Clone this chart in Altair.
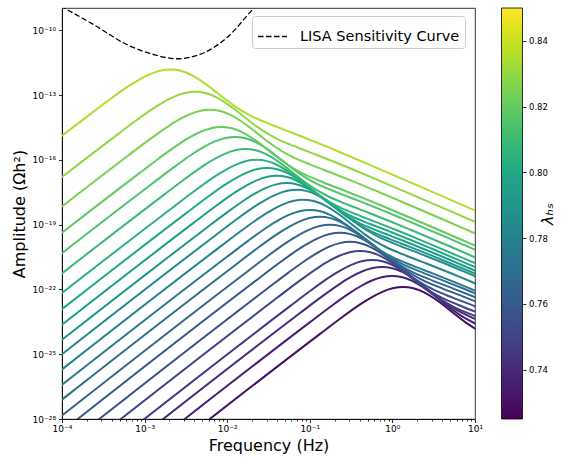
import altair as alt
import pandas as pd

# ---- data ----
lambda_hs = [0.730, 0.735, 0.740, 0.745, 0.750, 0.755, 0.760, 0.765, 0.770, 0.775, 0.780,
             0.785, 0.790, 0.795, 0.800, 0.805, 0.810, 0.815, 0.820, 0.825, 0.830, 0.835]
# peak position of each curve (log10 Hz, log10 Omega h^2)
peak_log_freq = [0.128, -0.005, -0.126, -0.247, -0.392, -0.513, -0.634, -0.755, -0.877, -0.998, -1.08,
                 -1.16, -1.28, -1.40, -1.52, -1.643, -1.78, -1.906, -2.07, -2.21, -2.39, -2.69]
peak_log_amp = [-21.89, -21.38, -20.96, -20.64, -20.22, -19.80, -19.38, -19.01, -18.64, -18.32, -17.85,
                -17.39, -17.08, -16.74, -16.38, -16.00, -15.50, -14.94, -14.48, -13.68, -12.85, -11.82]
# common curve profile around the peak (decades from the peak)
profile_dlogf = [-5.0, -1.0, -0.75, -0.5, -0.375, -0.25, -0.125, 0.0, 0.125, 0.25, 0.375, 0.5,
                 0.625, 0.75, 0.875, 1.0, 1.25, 1.5, 1.75, 2.0, 2.5, 3.0, 4.0]
profile_dlogamp = [-14.146, -2.158, -1.433, -0.757, -0.462, -0.221, -0.057, 0.002, -0.059, -0.240, -0.521, -0.870,
                   -1.247, -1.612, -1.929, -2.187, -2.592, -2.963, -3.343, -3.738, -4.550, -5.377, -7.041]

lisa_log_freq = [-4.10, -3.943, -3.621, -3.217, -2.895, -2.611, -2.329, -2.006, -1.684, -1.55]
lisa_log_amp = [-8.70, -9.035, -9.73, -10.66, -11.12, -11.32, -11.12, -10.35, -9.00, -8.45]

x_tick_exp = [-4, -3, -2, -1, 0, 1]
x_tick_labels = ["10⁻⁴", "10⁻³", "10⁻²", "10⁻¹", "10⁰", "10¹"]
x_minor = [m * 10.0 ** e for e in range(-4, 1) for m in range(2, 10)]
y_tick_exp = [-28, -25, -22, -19, -16, -13, -10]
y_tick_labels = ["10⁻²⁸", "10⁻²⁵", "10⁻²²", "10⁻¹⁹", "10⁻¹⁶", "10⁻¹³", "10⁻¹⁰"]
cbar_domain = [0.725, 0.85]
cbar_ticks = [0.74, 0.76, 0.78, 0.80, 0.82, 0.84]

FONT = "DejaVu Sans"

rows = []
for i, lam in enumerate(lambda_hs):
    for k, (du, dy) in enumerate(zip(profile_dlogf, profile_dlogamp)):
        rows.append({"lam": lam, "k": k,
                     "freq": 10 ** (peak_log_freq[i] + du),
                     "amp": 10 ** (peak_log_amp[i] + dy)})
curves = pd.DataFrame(rows)
lisa = pd.DataFrame({"freq": [10 ** v for v in lisa_log_freq],
                     "amp": [10 ** v for v in lisa_log_amp],
                     "name": ["LISA Sensitivity Curve"] * len(lisa_log_freq)})
cbar = pd.DataFrame({"lam": cbar_ticks})

is_major = "abs(log(datum.value)/LN10 - round(log(datum.value)/LN10)) < 0.001"


def label_expr(exps, labels):
    e = "round(log(datum.value)/LN10)"
    s = "''"
    for ex, lb in reversed(list(zip(exps, labels))):
        s = f"({e} == {ex} ? '{lb}' : {s})"
    return f"({is_major}) ? {s} : ''"


x_enc = alt.X("freq:Q",
              scale=alt.Scale(type="log", domain=[1e-4, 10], nice=False),
              axis=alt.Axis(values=[10.0 ** e for e in x_tick_exp] + x_minor,
                            labelExpr=label_expr(x_tick_exp, x_tick_labels),
                            tickSize={"condition": {"test": is_major, "value": 3.5}, "value": 2},
                            labelFontSize=9, labelPadding=2, labelFlush=False, labelOverlap=False,
                            title="Frequency (Hz)", titleFontSize=16, titleFontWeight="normal",
                            titlePadding=4))
y_enc = alt.Y("amp:Q",
              scale=alt.Scale(type="log", domain=[1e-28, 1.07e-9], nice=False),
              axis=alt.Axis(values=[10.0 ** e for e in y_tick_exp],
                            labelExpr=label_expr(y_tick_exp, y_tick_labels),
                            tickSize=3.5, labelFontSize=9, labelPadding=3, labelFlush=False,
                            labelOverlap=False,
                            title="Amplitude (Ωh²)", titleFontSize=16, titleFontWeight="normal",
                            titlePadding=5))

lines = alt.Chart(curves).mark_line(clip=True, strokeWidth=2, interpolate="monotone").encode(
    x=x_enc, y=y_enc,
    color=alt.Color("lam:Q",
                    scale=alt.Scale(scheme="viridis", domain=cbar_domain),
                    legend=alt.Legend(orient="none", legendX=439.5, legendY=0, direction="vertical",
                                      gradientLength=411, gradientThickness=21, title=None,
                                      values=cbar_ticks, labelExpr="''", labelFontSize=1,
                                      gradientStrokeColor="black", gradientStrokeWidth=0.8,
                                      padding=0)),
    detail="lam:N",
    order="k:Q",
)

lisa_line = alt.Chart(lisa).mark_line(clip=True, strokeWidth=1.3, color="black",
                                      interpolate="monotone").encode(
    x=x_enc, y=y_enc,
    strokeDash=alt.StrokeDash("name:N",
                              scale=alt.Scale(domain=["LISA Sensitivity Curve"], range=[[5.5, 2.5]]),
                              legend=alt.Legend(orient="none", legendX=190, legendY=8, title=None,
                                                labelFontSize=14.5, labelFont=FONT, labelColor="black",
                                                symbolType="stroke", symbolStrokeColor="black",
                                                symbolStrokeWidth=1.3, symbolSize=841, labelOffset=12,
                                                padding=5, fillColor="rgba(255,255,255,0.8)",
                                                strokeColor="#cccccc", cornerRadius=3)),
)

main = alt.layer(lines, lisa_line)

# colour-bar axis (ticks + labels + title), drawn on its own scale beside the gradient
cbar_axis = alt.Chart(cbar).mark_point(opacity=0).encode(
    x=alt.value(0),
    y=alt.Y("lam:Q", scale=alt.Scale(domain=cbar_domain, nice=False, zero=False),
            axis=alt.Axis(orient="right", offset=47.5, values=cbar_ticks, format=".2f",
                          domain=False, tickSize=3.5, labelFontSize=8.5, labelPadding=2.5,
                          title="λₕₛ", titleAngle=270, titleFontSize=16, titleFontStyle="italic",
                          titleFontWeight="normal", titlePadding=8)),
)

chart = alt.layer(main, cbar_axis).resolve_scale(y="independent").properties(
    width=413, height=411,
    autosize=alt.AutoSizeParams(type="none"),
    padding={"left": 62, "top": 8, "right": 94, "bottom": 38},
    background="white",
).configure_view(stroke="black", strokeWidth=0.8).configure_axis(
    grid=False, domainColor="black", domainWidth=0.8, tickColor="black", tickWidth=0.8,
    labelColor="black", titleColor="black", labelFont=FONT, titleFont=FONT,
)

chart.save("out.html", embed_options={"renderer": "svg", "actions": False})
